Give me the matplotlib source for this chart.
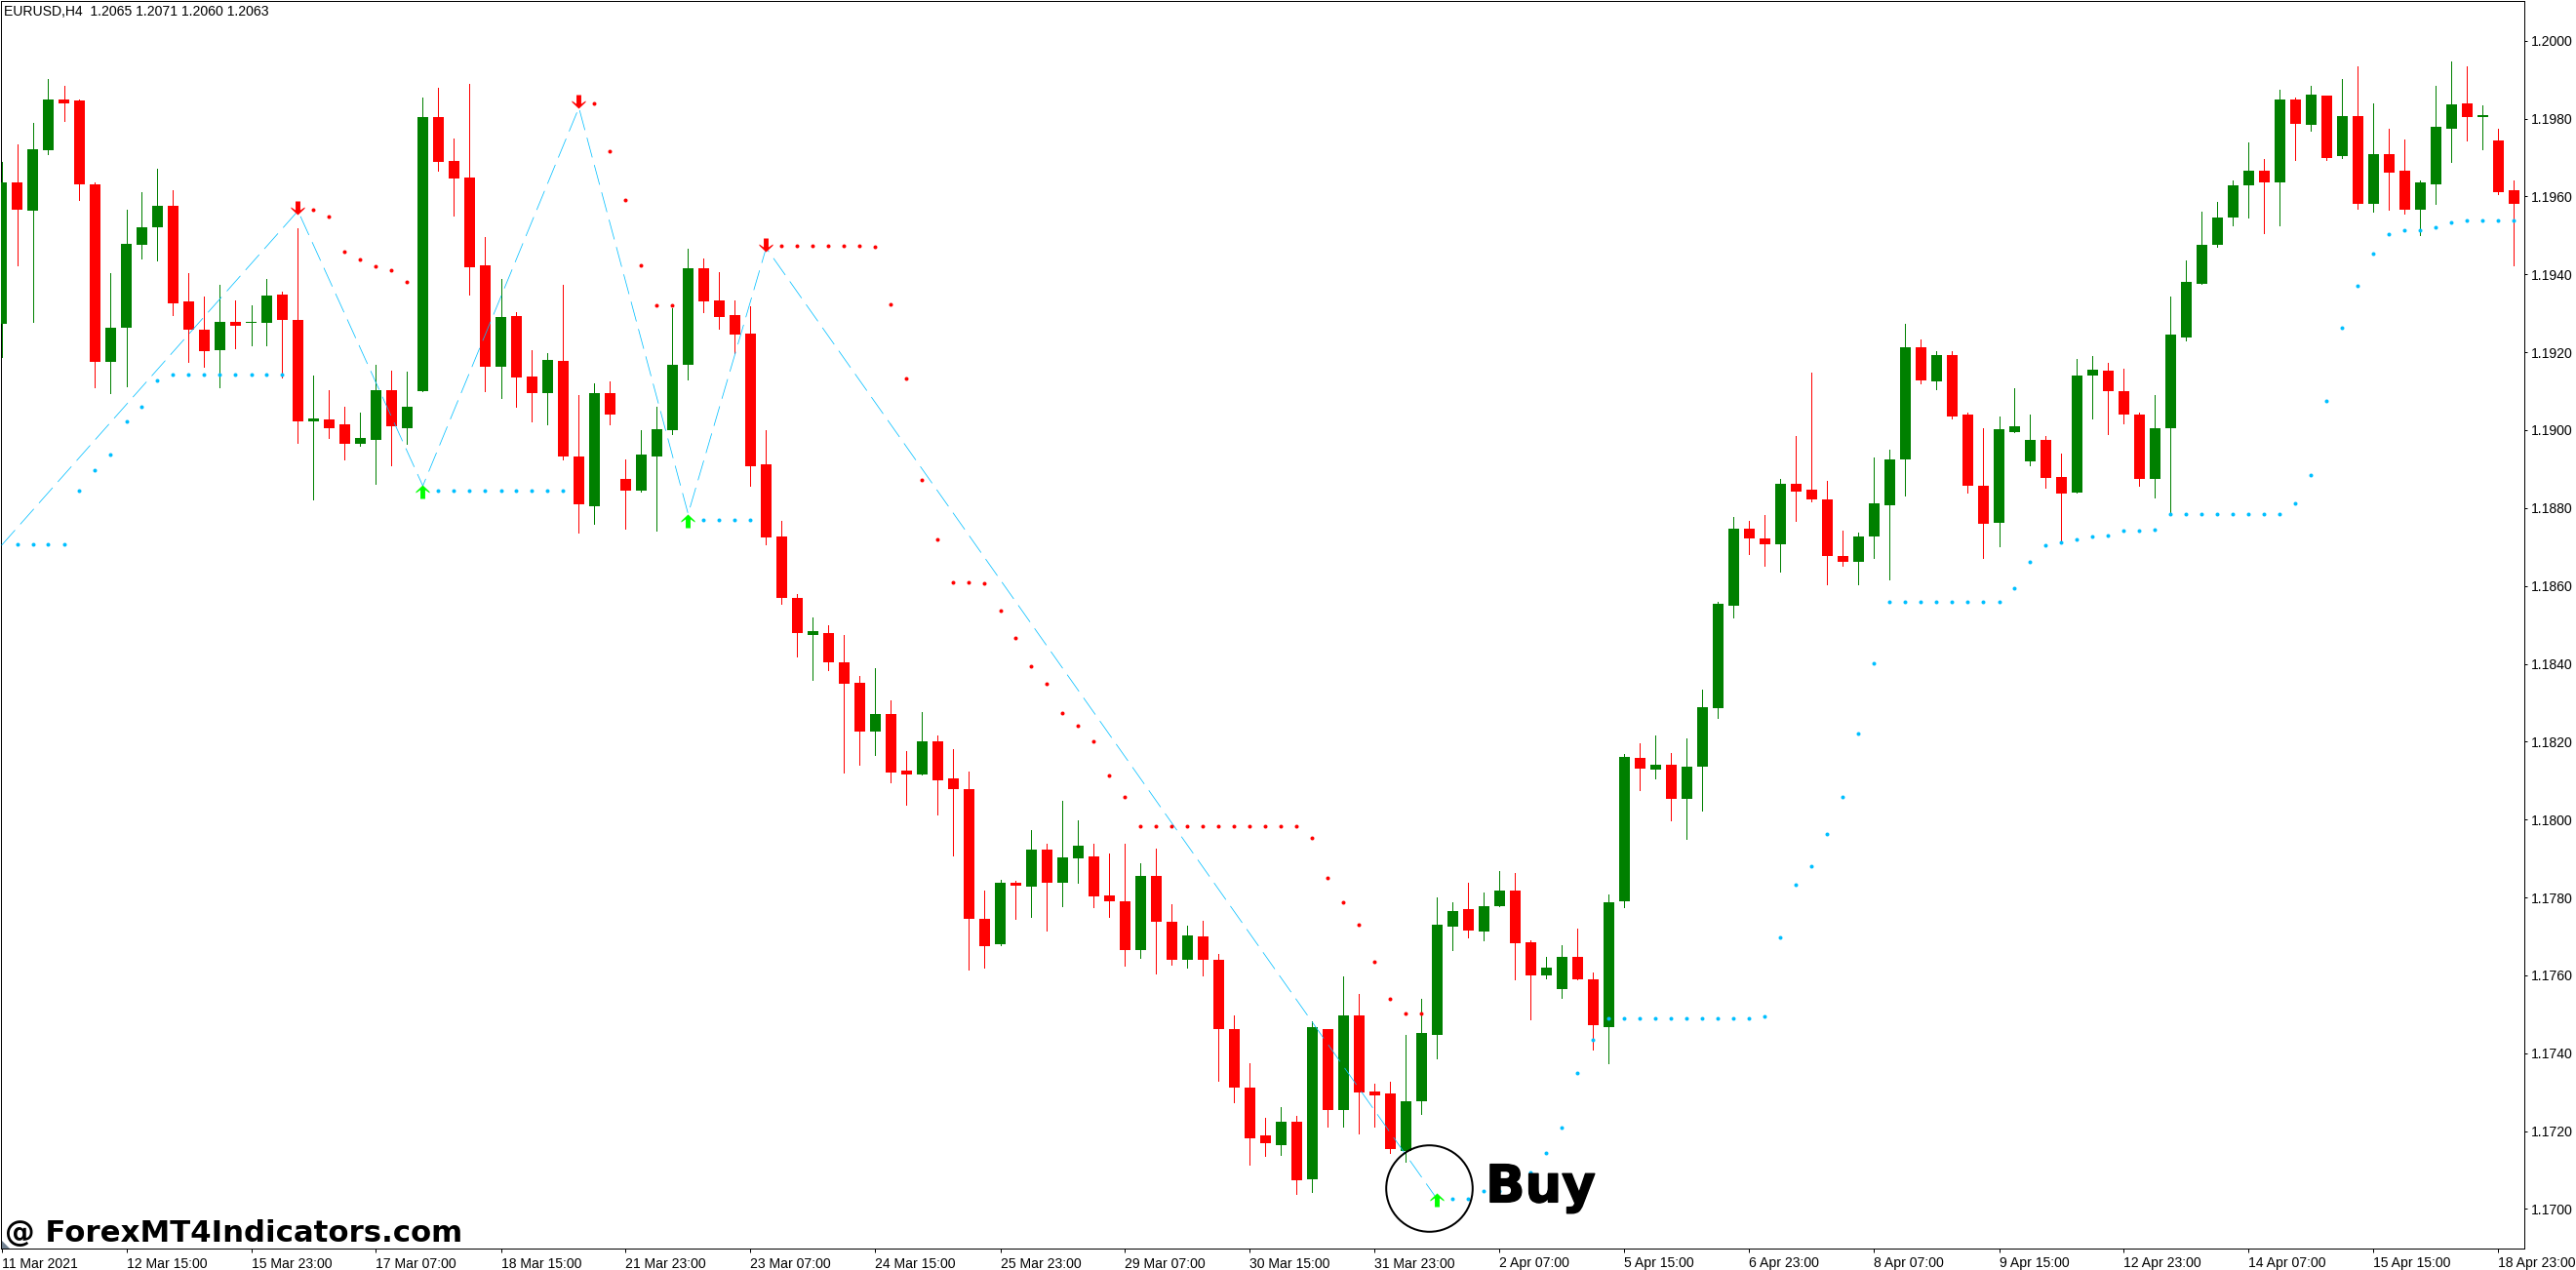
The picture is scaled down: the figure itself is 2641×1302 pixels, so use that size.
import numpy as np
import matplotlib
matplotlib.use('Agg')
import matplotlib.pyplot as plt
import matplotlib.patheffects as pe
from matplotlib.path import Path

# EURUSD H4, candles
opens = [1.19273, 1.19637, 1.19564, 1.19720, 1.19850, 1.19846, 1.19632, 1.19176, 1.19264, 1.19475,
         1.19522, 1.19577, 1.19330, 1.19259, 1.19206, 1.19277, 1.19275, 1.19275, 1.19349, 1.19284,
         1.19023, 1.19027, 1.19016, 1.18966, 1.18976, 1.19103, 1.19006, 1.19101, 1.19803, 1.19692,
         1.19649, 1.19424, 1.19164, 1.19294, 1.19137, 1.19096, 1.19179, 1.18933, 1.18805, 1.19094,
         1.18874, 1.18844, 1.18933, 1.18999, 1.19167, 1.19415, 1.19334, 1.19296, 1.19249, 1.18913,
         1.18728, 1.18570, 1.18473, 1.18480, 1.18405, 1.18352, 1.18225, 1.18272, 1.18125, 1.18117,
         1.18200, 1.18105, 1.18079, 1.17744, 1.17681, 1.17837, 1.17829, 1.17922, 1.17837, 1.17901,
         1.17906, 1.17806, 1.17789, 1.17666, 1.17856, 1.17737, 1.17639, 1.17701, 1.17641, 1.17463,
         1.17313, 1.17188, 1.17165, 1.17223, 1.17077, 1.17463, 1.17255, 1.17498, 1.17303, 1.17298,
         1.17150, 1.17277, 1.17448, 1.17726, 1.17771, 1.17712, 1.17778, 1.17817, 1.17686, 1.17601,
         1.17564, 1.17648, 1.17591, 1.17468, 1.17789, 1.18159, 1.18129, 1.18142, 1.18054, 1.18137,
         1.18285, 1.18550, 1.18748, 1.18723, 1.18706, 1.18861, 1.18846, 1.18823, 1.18676, 1.18661,
         1.18726, 1.18808, 1.18924, 1.19214, 1.19124, 1.19194, 1.19039, 1.18858, 1.18761, 1.18996,
         1.18921, 1.18976, 1.18881, 1.18839, 1.19139, 1.19154, 1.19101, 1.19039, 1.18874, 1.19006,
         1.19239, 1.19376, 1.19475, 1.19545, 1.19628, 1.19667, 1.19637, 1.19850, 1.19785, 1.19860,
         1.19704, 1.19807, 1.19580, 1.19708, 1.19665, 1.19567, 1.19630, 1.19775, 1.19840, 1.19805,
         1.19743, 1.19617]
closes = [1.19637, 1.19567, 1.19722, 1.19850, 1.19840, 1.19632, 1.19176, 1.19264, 1.19479, 1.19520,
          1.19577, 1.19325, 1.19257, 1.19204, 1.19277, 1.19269, 1.19279, 1.19346, 1.19282, 1.19023,
          1.19029, 1.19006, 1.18966, 1.18981, 1.19103, 1.19009, 1.19061, 1.19803, 1.19690, 1.19647,
          1.19419, 1.19164, 1.19291, 1.19134, 1.19096, 1.19181, 1.18933, 1.18809, 1.19094, 1.19041,
          1.18844, 1.18938, 1.19002, 1.19169, 1.19415, 1.19330, 1.19291, 1.19245, 1.18908, 1.18725,
          1.18568, 1.18478, 1.18483, 1.18403, 1.18348, 1.18225, 1.18272, 1.18122, 1.18117, 1.18200,
          1.18102, 1.18079, 1.17744, 1.17676, 1.17837, 1.17831, 1.17924, 1.17837, 1.17904, 1.17934,
          1.17803, 1.17789, 1.17664, 1.17856, 1.17737, 1.17641, 1.17703, 1.17641, 1.17461, 1.17311,
          1.17182, 1.17168, 1.17225, 1.17075, 1.17466, 1.17255, 1.17498, 1.17300, 1.17293, 1.17155,
          1.17277, 1.17453, 1.17731, 1.17766, 1.17714, 1.17778, 1.17819, 1.17683, 1.17601, 1.17619,
          1.17648, 1.17589, 1.17473, 1.17787, 1.18162, 1.18132, 1.18142, 1.18052, 1.18137, 1.18288,
          1.18555, 1.18748, 1.18721, 1.18706, 1.18861, 1.18843, 1.18821, 1.18676, 1.18663, 1.18728,
          1.18813, 1.18926, 1.19214, 1.19127, 1.19194, 1.19036, 1.18856, 1.18759, 1.19002, 1.19011,
          1.18976, 1.18878, 1.18836, 1.19139, 1.19156, 1.19099, 1.19039, 1.18874, 1.19006, 1.19245,
          1.19380, 1.19477, 1.19545, 1.19628, 1.19665, 1.19635, 1.19850, 1.19787, 1.19862, 1.19700,
          1.19807, 1.19582, 1.19709, 1.19662, 1.19567, 1.19635, 1.19780, 1.19837, 1.19805, 1.19810,
          1.19612, 1.19582]
highs = [1.19688, 1.19735, 1.19790, 1.19901, 1.19885, 1.19848, 1.19635, 1.19404, 1.19567, 1.19612,
         1.19672, 1.19615, 1.19402, 1.19342, 1.19372, 1.19334, 1.19321, 1.19387, 1.19355, 1.19518,
         1.19139, 1.19103, 1.19061, 1.19044, 1.19167, 1.19154, 1.19151, 1.19853, 1.19880, 1.19750,
         1.19890, 1.19497, 1.19389, 1.19302, 1.19206, 1.19199, 1.19372, 1.19091, 1.19119, 1.19124,
         1.18924, 1.18999, 1.19061, 1.19312, 1.19467, 1.19442, 1.19406, 1.19334, 1.19319, 1.18999,
         1.18766, 1.18578, 1.18518, 1.18498, 1.18473, 1.18368, 1.18390, 1.18307, 1.18177, 1.18277,
         1.18217, 1.18180, 1.18124, 1.17819, 1.17846, 1.17844, 1.17974, 1.17937, 1.18049, 1.17999,
         1.17937, 1.17912, 1.17939, 1.17887, 1.17926, 1.17783, 1.17728, 1.17739, 1.17656, 1.17498,
         1.17375, 1.17233, 1.17261, 1.17240, 1.17483, 1.17463, 1.17598, 1.17553, 1.17323, 1.17328,
         1.17446, 1.17539, 1.17801, 1.17787, 1.17839, 1.17814, 1.17867, 1.17862, 1.17691, 1.17648,
         1.17678, 1.17719, 1.17608, 1.17808, 1.18169, 1.18197, 1.18217, 1.18172, 1.18209, 1.18334,
         1.18560, 1.18776, 1.18768, 1.18781, 1.18874, 1.18984, 1.19147, 1.18869, 1.18741, 1.18738,
         1.18931, 1.18949, 1.19272, 1.19232, 1.19204, 1.19202, 1.19044, 1.19006, 1.19034, 1.19107,
         1.19039, 1.18986, 1.18941, 1.19184, 1.19190, 1.19172, 1.19159, 1.19046, 1.19089, 1.19342,
         1.19437, 1.19560, 1.19587, 1.19642, 1.19740, 1.19697, 1.19873, 1.19855, 1.19885, 1.19860,
         1.19901, 1.19933, 1.19840, 1.19773, 1.19747, 1.19642, 1.19885, 1.19947, 1.19935, 1.19835,
         1.19775, 1.19640]
lows = [1.19187, 1.19424, 1.19279, 1.19709, 1.19793, 1.19592, 1.19109, 1.19096, 1.19112, 1.19442,
        1.19435, 1.19296, 1.19176, 1.19162, 1.19109, 1.19211, 1.19219, 1.19219, 1.19134, 1.18968,
        1.18821, 1.18979, 1.18924, 1.18960, 1.18861, 1.18911, 1.18966, 1.19101, 1.19667, 1.19550,
        1.19349, 1.19101, 1.19082, 1.19061, 1.19023, 1.19016, 1.18924, 1.18736, 1.18759, 1.19016,
        1.18748, 1.18841, 1.18741, 1.18991, 1.19129, 1.19302, 1.19261, 1.19197, 1.18858, 1.18706,
        1.18553, 1.18420, 1.18360, 1.18385, 1.18122, 1.18142, 1.18167, 1.18097, 1.18039, 1.18115,
        1.18012, 1.17909, 1.17616, 1.17619, 1.17678, 1.17746, 1.17751, 1.17716, 1.17778, 1.17839,
        1.17776, 1.17749, 1.17626, 1.17646, 1.17605, 1.17628, 1.17621, 1.17601, 1.17330, 1.17275,
        1.17113, 1.17136, 1.17140, 1.17040, 1.17045, 1.17211, 1.17211, 1.17195, 1.17211, 1.17143,
        1.17122, 1.17243, 1.17386, 1.17664, 1.17698, 1.17691, 1.17778, 1.17589, 1.17488, 1.17593,
        1.17543, 1.17589, 1.17409, 1.17375, 1.17776, 1.18077, 1.18106, 1.17997, 1.17951, 1.18022,
        1.18260, 1.18518, 1.18681, 1.18651, 1.18638, 1.18766, 1.18816, 1.18605, 1.18653, 1.18605,
        1.18671, 1.18616, 1.18833, 1.19119, 1.19104, 1.19029, 1.18839, 1.18671, 1.18701, 1.18996,
        1.18911, 1.18853, 1.18714, 1.18839, 1.19031, 1.18989, 1.19018, 1.18858, 1.18826, 1.18785,
        1.19230, 1.19376, 1.19470, 1.19525, 1.19547, 1.19507, 1.19527, 1.19695, 1.19768, 1.19695,
        1.19700, 1.19569, 1.19560, 1.19567, 1.19557, 1.19502, 1.19580, 1.19690, 1.19745, 1.19722,
        1.19605, 1.19424]

# dotted stop lines of the indicator
blue_idx = [1, 2, 3, 4, 5, 6, 7, 8, 9, 10, 11, 12, 13, 14, 15, 16, 17, 18,
            28, 29, 30, 31, 32, 33, 34, 35, 36, 45, 46, 47, 48,
            93, 94, 95, 96, 97, 98, 99, 100, 101, 102,
            103, 104, 105, 106, 107, 108, 109, 110, 111, 112, 113,
            114, 115, 116, 117, 118, 119, 120,
            121, 122, 123, 124, 125, 126, 127, 128,
            129, 130, 131, 132, 133, 134, 135, 136, 137, 138,
            139, 140, 141, 142, 143, 144, 145, 146,
            147, 148, 149, 150, 151, 152, 153, 154, 155, 156, 157, 158, 159, 160, 161]
blue_price = [1.18708, 1.18708, 1.18708, 1.18708, 1.18845, 1.18898, 1.18938, 1.19022, 1.19061, 1.19128,
              1.19143, 1.19143, 1.19143, 1.19143, 1.19143, 1.19143, 1.19143, 1.19143,
              1.18845, 1.18845, 1.18845, 1.18845, 1.18845, 1.18845, 1.18845, 1.18845, 1.18845,
              1.18770, 1.18770, 1.18770, 1.18770,
              1.17027, 1.17027, 1.17047, 1.17047, 1.17073, 1.17094, 1.17145, 1.17210, 1.17349, 1.17435,
              1.17490, 1.17490, 1.17490, 1.17490, 1.17490, 1.17490, 1.17490, 1.17490, 1.17490, 1.17490, 1.17495,
              1.17697, 1.17833, 1.17880, 1.17963, 1.18058, 1.18221, 1.18401,
              1.18559, 1.18559, 1.18559, 1.18559, 1.18559, 1.18559, 1.18559, 1.18559,
              1.18593, 1.18662, 1.18705, 1.18713, 1.18720, 1.18728, 1.18730, 1.18742, 1.18742, 1.18745,
              1.18785, 1.18785, 1.18785, 1.18785, 1.18785, 1.18785, 1.18785, 1.18785,
              1.18813, 1.18885, 1.19075, 1.19263, 1.19371, 1.19453, 1.19504, 1.19513, 1.19513, 1.19522,
              1.19534, 1.19538, 1.19538, 1.19538, 1.19538]
red_idx = [20, 21, 22, 23, 24, 25, 26, 38, 39, 40, 41, 42, 43,
           50, 51, 52, 53, 54, 55, 56, 57, 58, 59, 60, 61, 62, 63, 64, 65,
           66, 67, 68, 69, 70, 71, 72, 73, 74, 75, 76, 77, 78, 79, 80, 81, 82, 83,
           84, 85, 86, 87, 88, 89, 90, 91]
red_price = [1.19566, 1.19549, 1.19458, 1.19439, 1.19421, 1.19412, 1.19381,
             1.19839, 1.19717, 1.19591, 1.19423, 1.19321, 1.19321,
             1.19474, 1.19474, 1.19474, 1.19474, 1.19474, 1.19474, 1.19471,
             1.19323, 1.19133, 1.18872, 1.18720, 1.18609, 1.18609, 1.18607, 1.18537, 1.18467,
             1.18394, 1.18349, 1.18274, 1.18242, 1.18201, 1.18114, 1.18058,
             1.17983, 1.17983, 1.17983, 1.17983, 1.17983, 1.17983, 1.17983, 1.17983, 1.17983, 1.17983, 1.17983,
             1.17953, 1.17850, 1.17788, 1.17729, 1.17636, 1.17540, 1.17502, 1.17502]

zigzag_idx = [0, 19, 27, 37, 44, 49, 92]
zigzag_price = [1.18704, 1.19563, 1.18857, 1.19828, 1.18785, 1.19468, 1.17025]
up_idx = [27, 44, 92]
up_price = [1.18841, 1.18766, 1.17024]
down_idx = [19, 37, 49]
down_price = [1.19572, 1.19843, 1.19477]

price_ticks = [1.17 + 0.002 * k for k in range(16)]
time_pos = list(range(0, 162, 8))
time_labels = ['11 Mar 2021', '12 Mar 15:00', '15 Mar 23:00', '17 Mar 07:00', '18 Mar 15:00', '21 Mar 23:00',
               '23 Mar 07:00', '24 Mar 15:00', '25 Mar 23:00', '29 Mar 07:00', '30 Mar 15:00', '31 Mar 23:00',
               '2 Apr 07:00', '5 Apr 15:00', '6 Apr 23:00', '8 Apr 07:00', '9 Apr 15:00', '12 Apr 23:00',
               '14 Apr 07:00', '15 Apr 15:00', '18 Apr 23:00']

W, H = 2641, 1302
PX = 72 / 100  # one pixel in points

plt.rcParams['font.family'] = ['Liberation Sans', 'DejaVu Sans']
fig = plt.figure(figsize=(W / 100, H / 100), dpi=100, facecolor='white')
ax = fig.add_axes([0.5 / W, (H - 1279.5) / H, 2587 / W, 1279 / H])

x = np.arange(len(opens))
o, c = np.array(opens), np.array(closes)
colors = ['#008000' if b >= a else '#ff0000' for a, b in zip(opens, closes)]

ax.vlines(x, lows, highs, colors=colors, lw=PX, antialiased=False, zorder=2)
ax.bar(x, np.abs(c - o), bottom=np.minimum(o, c), width=11 / 16, color=colors, antialiased=False, zorder=3)

# thin dashes, 21px on, 8px off
ax.plot(zigzag_idx, zigzag_price, color='#00bfff', lw=0.75 * PX, dashes=(28, 10.7), zorder=4)
ax.plot(blue_idx, blue_price, 'o', color='#00bfff', ms=4 * PX, mew=0, zorder=5)
ax.plot(red_idx, red_price, 'o', color='#ff0000', ms=4 * PX, mew=0, zorder=5)

up_arrow = Path([(0, 1), (1, 0.05), (1, -0.15), (0.35, 0.3), (0.35, -1), (-0.35, -1), (-0.35, 0.3), (-1, -0.15), (-1, 0.05), (0, 1)], closed=True)
down_arrow = Path([(0, -1), (1, -0.05), (1, 0.15), (0.35, -0.3), (0.35, 1), (-0.35, 1), (-0.35, -0.3), (-1, 0.15), (-1, -0.05), (0, -1)], closed=True)
ax.plot(up_idx, up_price, ls='none', marker=up_arrow, ms=14 * PX, color='#00ff00', mew=0, zorder=6)
ax.plot(down_idx, down_price, ls='none', marker=down_arrow, ms=14 * PX, color='#ff0000', mew=0, zorder=6)

# buy annotation
ax.plot([91.5], [1.17053], 'o', ms=88.6 * PX, mfc='none', mec='black', mew=2 * PX, zorder=7)
ax.text(95.1, 1.17018, 'Buy', family='DejaVu Sans', weight='bold', fontsize=53 * PX, color='black',
        ha='left', va='baseline', zorder=8,
        path_effects=[pe.withStroke(linewidth=1.5 * PX, foreground='black')])

ax.set_xlim(-0.0625, 161.625)
ax.set_ylim(1.168998, 1.201033)
ax.set_xticks(time_pos)
ax.set_xticklabels(time_labels, ha='left')
ax.set_yticks(price_ticks)
ax.set_yticklabels(['%.4f' % p for p in price_ticks])
ax.yaxis.tick_right()
ax.tick_params(axis='x', length=4 * PX, width=PX, pad=5 * PX, labelsize=14 * PX)
ax.tick_params(axis='y', length=3 * PX, width=PX, pad=4.5 * PX, labelsize=14 * PX)
for s in ax.spines.values():
    s.set_linewidth(PX)

# chart-shift marker in the corner
ax.fill([0, 0, 0.5], [1.169198, 1.168998, 1.168998], color='#708090', lw=0, zorder=1)

fig.text(4.5 / W, 1 - 12 / H, 'EURUSD,H4  1.2065 1.2071 1.2060 1.2063', fontsize=14 * PX, va='center', ha='left')
fig.text(5 / W, 1 - 1273 / H, '@ ForexMT4Indicators.com', family='DejaVu Sans', weight='bold', fontsize=30.8 * PX,
         va='baseline', ha='left')

fig.savefig('out.png', dpi=100)
